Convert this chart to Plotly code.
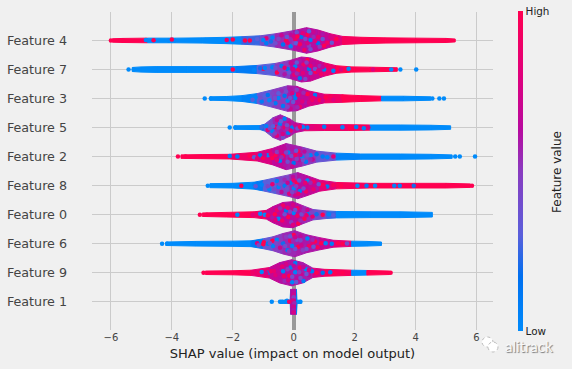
import plotly.graph_objects as go
from plotly.colors import sample_colorscale

FEATURES = ["Feature 1", "Feature 9", "Feature 6", "Feature 0", "Feature 8",
            "Feature 2", "Feature 5", "Feature 3", "Feature 7", "Feature 4"]
XTICKS = [-6, -4, -2, 0, 2, 4, 6]
RED_BLUE = [[0, "#008bfb"], [0.17, "#0070f0"], [0.3, "#5a5fdb"], [0.5, "#8a3bc0"],
            [0.63, "#b80a9f"], [0.8, "#e0007c"], [1, "#ff0051"]]

# Outline of each swarm: stations along x, half height there, colour value between stations
F4_X = [-5.95, -5.6, -4.8, -3.9, -3.0, -2.2, -1.7, -1.1, -0.6, 0.0, 0.42, 0.8, 1.2, 1.6, 2.2, 3.0, 4.0, 5.0, 5.3]
F4_H = [0.06, 0.07, 0.08, 0.08, 0.09, 0.11, 0.13, 0.16, 0.23, 0.34, 0.44, 0.36, 0.23, 0.14, 0.11, 0.09, 0.08, 0.07, 0.05]
F4_V = [1, 1, 0, 0, 0, 0.02, 0.25, 0.4, 0.55, 0.62, 0.62, 0.68, 0.8, 0.95, 1, 1, 1, 1]
F7_X = [-5.3, -5.0, -4.5, -3.5, -2.5, -1.9, -1.2, -0.6, -0.1, 0.25, 0.55, 1.0, 1.4, 1.9, 2.5, 3.4]
F7_H = [0.07, 0.09, 0.10, 0.10, 0.10, 0.10, 0.14, 0.21, 0.32, 0.43, 0.40, 0.23, 0.13, 0.09, 0.08, 0.06]
F7_V = [0, 0, 0, 0, 0, 0.1, 0.3, 0.5, 0.62, 0.64, 0.7, 0.85, 1, 1, 1]
F3_X = [-2.75, -2.2, -1.7, -1.2, -0.7, -0.2, 0.1, 0.5, 1.0, 1.6, 2.2, 2.88, 3.6, 4.5]
F3_H = [0.06, 0.07, 0.10, 0.17, 0.30, 0.44, 0.42, 0.26, 0.15, 0.13, 0.10, 0.08, 0.08, 0.06]
F3_V = [0, 0, 0.05, 0.35, 0.5, 0.58, 0.66, 0.76, 0.9, 1, 1, 0, 0]
F5_X = [-1.95, -1.1, -0.95, -0.68, -0.44, -0.13, 0.05, 0.35, 1.0, 1.8, 2.5, 3.5, 4.5, 5.15]
F5_H = [0.06, 0.07, 0.12, 0.34, 0.44, 0.30, 0.17, 0.11, 0.10, 0.10, 0.09, 0.09, 0.08, 0.06]
F5_V = [0, 0.2, 0.4, 0.55, 0.58, 0.6, 0.65, 0.85, 0.9, 0.95, 0, 0, 0]
F2_X = [-3.7, -3.0, -2.1, -1.2, -0.7, -0.25, 0.3, 0.75, 1.4, 2.2, 3.5, 4.5, 5.2]
F2_H = [0.06, 0.07, 0.08, 0.15, 0.28, 0.45, 0.32, 0.19, 0.12, 0.09, 0.09, 0.08, 0.06]
F2_V = [1, 1, 0.9, 0.78, 0.66, 0.58, 0.5, 0.35, 0.05, 0, 0, 0]
F8_X = [-2.75, -2.0, -1.3, -1.0, -0.56, -0.13, 0.13, 0.42, 0.85, 1.4, 2.5, 4.0, 5.0, 5.8]
F8_H = [0.07, 0.08, 0.12, 0.18, 0.28, 0.38, 0.45, 0.35, 0.19, 0.11, 0.08, 0.08, 0.08, 0.06]
F8_V = [0, 0, 0.1, 0.3, 0.45, 0.55, 0.62, 0.68, 0.8, 0.95, 1, 1, 1]
F0_X = [-3.0, -2.2, -1.3, -0.9, -0.68, -0.36, -0.03, 0.3, 0.63, 1.08, 1.4, 2.5, 3.5, 4.55]
F0_H = [0.06, 0.08, 0.10, 0.15, 0.28, 0.42, 0.45, 0.31, 0.18, 0.13, 0.11, 0.10, 0.10, 0.08]
F0_V = [1, 1, 0.9, 0.72, 0.66, 0.64, 0.62, 0.55, 0.4, 0.25, 0, 0, 0]
F6_X = [-4.2, -3.2, -2.0, -1.4, -1.0, -0.68, -0.36, 0.03, 0.42, 0.85, 1.3, 1.9, 2.4, 2.88]
F6_H = [0.06, 0.08, 0.09, 0.10, 0.17, 0.24, 0.35, 0.45, 0.31, 0.21, 0.12, 0.09, 0.08, 0.06]
F6_V = [0, 0, 0, 0.1, 0.35, 0.5, 0.55, 0.58, 0.6, 0.68, 0.82, 0, 0]
F9_X = [-2.9, -2.0, -1.4, -0.8, -0.46, -0.07, 0.3, 0.63, 1.0, 1.9, 2.4, 3.15]
F9_H = [0.06, 0.07, 0.09, 0.18, 0.35, 0.45, 0.35, 0.16, 0.12, 0.09, 0.08, 0.06]
F9_V = [1, 1, 0.85, 0.68, 0.62, 0.6, 0.58, 0.78, 0.95, 0, 1]
F1_X = [-0.45, -0.12, -0.1, 0.09, 0.11, 0.25]
F1_H = [0.05, 0.06, 0.43, 0.43, 0.06, 0.05]
F1_V = [0, 0, 0.63, 0.1, 0]

# Individually visible dots: (shap value, offset within the row, feature value)
F4_DOTS = [(-6.0,0,1),(-5.6,0,1),(-4.85,0.02,0),(-4.6,0.01,1),(-4.1,0,0),(-4.0,0.03,1),(-2.9,0.02,0),(-2.2,0.02,0.9),(-2.0,0.03,1),(-1.44,0,1),(-1.6,0,1),
 (-1.2,0.05,0.3),(-0.9,-0.1,0.1),(-0.9,0.08,0.8),(-0.7,0.1,0.05),(-0.6,-0.1,0.4),(-0.4,0.18,0.7),(-0.35,-0.14,0.15),(-0.25,0,1),(-0.1,0.2,0.65),(-0.1,-0.2,0.05),
 (0.05,0.05,0.9),(0.1,0.28,0.4),(0.15,-0.24,0.7),(0.25,0.12,0.15),(0.25,-0.05,0.65),(0.35,-0.33,0.9),(0.35,0.36,0.6),(0.45,0.2,1),(0.5,-0.18,0.5),(0.55,0.02,0.1),
 (0.65,0.3,0.7),(0.7,-0.28,0.65),(0.8,0.12,0.85),(0.8,-0.1,0.15),(0.95,0.22,0.6),(1.0,-0.18,1),(1.1,0.04,0.65),(1.25,-0.08,0.35),(1.4,0.05,1),
 (-1.0,0.02,0.05),(-0.75,-0.04,0.2),(-0.5,0.05,0.45),(-0.2,-0.08,0.85),(-0.22,0.12,0.35),(0,0.14,0.75),(0,-0.1,0.5),(0.12,0.14,1),(0.08,-0.1,0.3),(0.2,-0.13,0.95),(0.38,0.05,0.45),(0.45,-0.1,0.75),(0.3,0.25,0.8),(0.5,0.32,0.3),(0.55,-0.3,0.4),(0.65,0.12,0.55),(0.7,-0.02,0.8),(0.85,-0.22,0.5),(0.95,0.05,0.35),(1.1,-0.08,0.9),(1.2,0.12,0.75)]
F7_DOTS = [(-5.42,0,0),(-5.25,0,0),(-2.0,0,1),(-1.0,0.03,1),(-1.7,0.02,0.1),(-1.3,-0.03,0.05),(-0.85,-0.06,0.3),(-0.7,0.08,0.05),(-0.55,-0.1,1),(-0.4,0.12,0.1),(-0.3,-0.16,0.6),
 (-0.2,0.02,0.15),(-0.1,0.22,0.7),(0.02,-0.18,0.85),(0.05,0.1,0.05),(0.15,-0.02,1),(0.2,0.3,0.6),(0.2,-0.3,0.15),(0.32,0.16,0.9),(0.4,-0.2,0.65),(0.45,0.34,1),
 (0.5,0.02,0.15),(0.6,-0.28,0.7),(0.65,0.2,0.65),(0.72,-0.08,1),(0.85,0.12,0.55),(0.9,-0.16,0.9),(1.0,0,0.1),(1.15,0.1,0.9),(1.3,-0.04,0.05),(1.55,0,0.8),(1.8,0.03,0),(2.0,0,1),
 (2.6,0,0.8),(3.2,0,0),(3.5,0,0),(4.02,0,0),
 (-1.1,0.04,0.2),(-0.95,0.05,0.05),(-0.6,0.06,0.4),(-0.45,-0.02,0.5),(-0.3,0.06,0.85),(-0.15,-0.1,0.35),(-0.02,0.02,0.75),(0.1,-0.14,0.55),(0.1,0.24,0.35),(0.25,0.06,0.65),(0.3,-0.12,0.8),(0.38,-0.33,0.45),(0.42,0.24,0.5),(0.55,0.12,0.85),(0.55,-0.12,0.35),(0.7,0.02,0.4),(0.8,-0.05,0.8),(0.95,0.08,0.65)]
F3_DOTS = [(-2.92,0,0),(-2.72,0,0),(-1.25,0.04,0.05),(-1.05,-0.1,0.1),(-0.95,0.1,0.3),(-0.8,-0.06,0.02),(-0.7,0.18,0.45),(-0.6,-0.16,0.1),(-0.5,0.02,0.05),(-0.4,0.26,0.55),
 (-0.35,-0.26,0.1),(-0.3,0.1,0.15),(-0.2,-0.08,0.05),(-0.1,0.32,0.6),(-0.1,-0.35,0.7),(0,0.15,0.1),(0.05,-0.15,0.65),(0.05,0.02,0.1),(0.18,0.26,0.65),(0.2,-0.28,0.9),
 (0.3,0.05,0.65),(0.38,-0.14,0.6),(0.45,0.16,1),(0.6,-0.05,0.9),(0.7,0.12,0.1),(0.85,-0.05,1),(1.05,0.04,1),(1.3,-0.04,0.8),(1.6,0.06,1),(4.55,0,0),(4.78,0,0),(4.93,0,0),
 (-1.35,-0.04,0.3),(-1.1,0.03,0.4),(-0.85,0.12,0.15),(-0.72,-0.18,0.35),(-0.62,0.02,0.4),(-0.5,0.18,0.3),(-0.45,-0.12,0.5),(-0.25,0.24,0.4),(-0.2,-0.28,0.45),(-0.12,0.02,0.4),(-0.05,0.18,0.75),(-0.02,-0.12,0.35),(0.1,0.3,0.5),(0.15,0.12,0.85),(0.12,-0.3,0.55),(0.28,-0.1,0.8),(0.32,0.2,0.55),(0.5,-0.14,0.75),(0.65,0.02,0.85),(0.95,-0.08,0.75),(1.2,0.08,0.95)]
F5_DOTS = [(-2.1,0,0),(-1.92,0,0),(-1.05,0.02,0.25),(-0.9,0.05,0.05),(-0.85,-0.08,0.8),(-0.75,0.16,0.45),(-0.7,-0.12,0.05),(-0.6,0.02,0.9),(-0.55,0.26,0.7),(-0.55,-0.28,0.8),
 (-0.45,0.12,0.08),(-0.42,-0.12,0.6),(-0.35,-0.34,0.4),(-0.3,0.3,0.08),(-0.3,0,0.85),(-0.18,-0.18,0.1),(-0.15,0.16,0.7),(-0.05,0,0.1),(0.05,0.07,0.7),(0.3,0.02,0.05),(0.45,0,0.1),
 (0.8,0,0.85),(1.0,0.03,0.1),(1.25,0,0.9),(1.6,0.01,0.05),(1.85,0,1),(2.05,0.02,0.1),(2.3,-0.02,0.05),(2.45,0,0.8),
 (-0.78,-0.02,0.4),(-0.68,0.05,0.3),(-0.62,-0.2,0.5),(-0.5,0.0,0.45),(-0.48,0.33,0.6),(-0.42,0.22,0.3),(-0.36,-0.22,0.75),(-0.22,0.08,0.4),(-0.22,-0.06,0.55),(-0.1,-0.1,0.85),(0.12,-0.03,0.4),(0.2,0.03,0.9),(0.6,0.01,0.8)]
F2_DOTS = [(-3.8,0,1),(-3.55,0,1),(-2.1,0.02,0.1),(-1.85,0,0.1),(-1.45,0.03,1),(-1.3,-0.02,0.3),(-1.1,0.05,0.15),(-1.0,-0.04,1),(-0.85,0.05,0.05),(-0.7,-0.05,1),(-0.6,0.05,1),
 (-0.55,0.16,0.5),(-0.45,-0.14,0.1),(-0.35,0.03,1),(-0.3,0.28,0.65),(-0.28,-0.3,0.6),(-0.18,0.14,0.05),(-0.12,-0.08,0.7),(-0.05,0.28,0.6),(0,-0.22,0.15),(0.05,0.05,0.9),
 (0.15,0.18,1),(0.18,-0.12,0.65),(0.28,-0.02,0.05),(0.35,0.18,0.65),(0.4,-0.18,0.1),(0.55,0.05,0.05),(0.62,-0.1,0.7),(0.75,0.08,0.15),(0.95,0,0.1),(1.1,-0.02,0.05),(1.3,0,0.8),(5.3,0,0),(5.45,0,0),(5.95,0,0),
 (-1.2,-0.06,0.85),(-0.95,0.06,0.7),(-0.75,0.08,0.85),(-0.55,-0.12,0.85),(-0.42,0.18,0.75),(-0.4,-0.02,0.55),(-0.25,0.14,0.45),(-0.2,-0.18,0.4),(-0.08,0.02,0.4),(-0.05,-0.34,0.7),(0.08,0.2,0.35),(0.1,-0.08,0.5),(0.22,0.06,0.7),(0.3,-0.12,0.4),(0.45,0.04,0.4),(0.55,-0.1,0.55)]
F8_DOTS = [(-2.82,0,0),(-1.72,0,1),(-1.3,0.05,0.05),(-1.1,-0.08,0.1),(-0.95,0.1,0.3),(-0.8,-0.12,0.05),(-0.7,0.05,0.85),(-0.55,0.16,0.1),(-0.5,-0.05,0.05),(-0.4,-0.22,0.65),(-0.3,0.2,0.55),(-0.3,0,0.1),
 (-0.15,-0.28,0.8),(-0.1,0.1,0.1),(-0.02,0.3,0.65),(0,-0.1,0.05),(0.05,-0.34,0.7),(0.1,0.1,1),(0.2,-0.18,0.1),(0.25,0.28,0.6),(0.3,0,0.65),(0.4,-0.2,0.9),(0.45,0.18,0.05),(0.55,-0.04,0.7),
 (0.65,0.14,0.9),(0.75,-0.1,0.6),(0.95,0.02,1),(1.1,-0.03,0.1),(1.3,0.02,0.95),(1.55,0,1),(2.09,0,0),(2.39,0,0.1),(2.67,0,0),(3.3,0,0.05),(3.48,0,0.05),(3.94,0,0.2),(5.85,0,1),
 (-1.25,-0.02,0.35),(-1.05,0.03,0.05),(-0.85,-0.02,0.45),(-0.65,-0.12,0.4),(-0.45,0.05,0.4),(-0.2,0.1,0.7),(-0.22,-0.1,0.4),(-0.05,-0.22,0.45),(0,0.18,0.9),(0.08,-0.02,0.5),(0.18,0.18,0.35),(0.15,-0.28,0.85),(0.32,-0.1,0.4),(0.38,0.1,0.85),(0.55,0.1,0.55),(0.65,-0.12,0.85),(0.82,0.05,0.35),(1.0,-0.06,0.85)]
F0_DOTS = [(-3.08,0,1),(-2.85,0,1),(-1.85,0,0),(-1.35,0,0.8),(-1.1,0.03,0),(-0.95,0,0),(-0.8,0.08,0.7),(-0.7,-0.1,0.6),(-0.55,0.16,0.85),(-0.5,-0.14,0.05),(-0.42,0.02,0.65),(-0.35,0.32,0.9),
 (-0.3,-0.28,0.7),(-0.25,0.14,0.15),(-0.18,-0.08,1),(-0.08,0.28,0.65),(-0.08,-0.26,0.5),(0,0.06,0.05),(0.06,-0.14,0.65),(0.12,0.22,0.9),(0.15,-0.3,1),(0.25,0.02,0.4),(0.32,0.14,0.55),
 (0.35,-0.14,1),(0.5,0.05,0.1),(0.62,-0.06,0.85),(0.75,0.02,0.2),(0.95,0,1),(1.15,0.02,0.05),(1.3,-0.02,0.3),
 (-0.85,-0.02,0.95),(-0.62,0.02,1),(-0.6,-0.18,0.8),(-0.45,0.22,0.55),(-0.38,-0.2,0.9),(-0.3,0.02,0.4),(-0.2,0.24,0.85),(-0.12,0.1,0.5),(-0.02,-0.35,0.8),(-0.02,0.34,0.75),(0.05,0.16,0.4),(0.12,-0.04,0.9),(0.22,-0.2,0.55),(0.42,-0.02,0.85),(0.45,0.16,0.7),(0.58,0.08,0.45)]
F6_DOTS = [(-4.32,0,0),(-4.15,0,0),(-1.2,0.02,0.8),(-1.0,-0.02,1),(-0.98,0.05,1),(-0.85,0,0.1),(-0.7,0.1,1),(-0.68,-0.08,0.05),(-0.55,0.14,0.05),(-0.45,-0.14,0.7),(-0.35,0.02,0.2),(-0.25,0.24,0.5),
 (-0.2,-0.22,0.1),(-0.12,0.1,0.9),(-0.05,-0.08,0.05),(0,0.3,1),(0.02,-0.32,0.55),(0.1,0.14,0.4),(0.15,-0.1,1),(0.22,0.26,0.65),(0.3,-0.22,0.5),(0.32,0.05,0.6),(0.45,0.18,0.05),(0.5,-0.08,0.9),
 (0.7,0.08,1),(0.78,-0.12,0.95),(0.9,0.02,1),(1.05,0.02,0.05),(1.25,0,0.1),(1.45,0.02,1),(1.6,0,1),(1.75,0.01,0.4),
 (-1.15,-0.05,0.4),(-0.78,0.02,0.4),(-0.58,0.02,0.45),(-0.42,0.14,0.5),(-0.28,-0.08,0.4),(-0.15,-0.26,0.5),(-0.12,0.26,0.35),(-0.02,0.1,0.55),(0.05,-0.18,0.4),(0.05,0.22,0.7),(0.22,0.12,0.45),(0.25,-0.05,0.7),(0.42,-0.18,0.4),(0.62,0.02,0.85),(0.65,-0.1,0.35),(0.62,0.14,0.55)]
F9_DOTS = [(-2.96,0,1),(-1.35,0,0.9),(-1.15,0,0.9),(-1.05,0.03,0),(-0.85,0,0.1),(-0.75,0.05,0.9),(-0.6,-0.08,0.8),(-0.5,0.2,0.7),(-0.45,-0.14,0.65),(-0.35,0.05,0.05),(-0.3,-0.28,0.55),(-0.25,0.3,0.75),
 (-0.15,-0.1,1),(-0.1,0.18,0.1),(-0.05,-0.33,0.05),(0.05,0.34,0.1),(0.05,0.02,0.05),(0.12,-0.2,0.65),(0.2,0.18,0.9),(0.25,-0.05,0.7),(0.32,-0.28,0.1),(0.4,0.12,0.05),(0.5,-0.08,0.65),(0.6,0.05,0.1),
 (0.75,0,1),(0.95,0,0.15),(1.2,0.02,0.1),(1.35,-0.02,1),(1.6,0,1),(2.05,0,0),(3.18,0,1),
 (-0.9,-0.02,0.75),(-0.65,0.06,0.85),(-0.48,-0.02,0.7),(-0.38,0.22,0.85),(-0.32,-0.12,0.9),(-0.2,0.12,0.5),(-0.18,-0.25,0.75),(-0.05,-0.14,0.4),(0,0.24,0.65),(0.08,-0.32,0.35),(0.18,0.02,0.5),(0.22,-0.18,0.4),(0.32,0.2,0.65),(0.42,-0.04,0.35),(0.5,0.1,0.75)]
F1_DOTS = [(-0.72,0,0),(-0.45,0,0),(-0.38,0,0),(-0.28,0,0),(-0.22,0.04,0),(-0.15,0,0.9),(0,0.35,0.63),(0,0.26,0.7),(0,0.16,0.5),(-0.02,0.05,0.75),(0.02,-0.05,0.55),(0,-0.16,0.7),(0,-0.28,0.6),(0,-0.36,0.75),(0.22,0,0)]

OUTLINES = [(F1_X, F1_H, F1_V), (F9_X, F9_H, F9_V), (F6_X, F6_H, F6_V), (F0_X, F0_H, F0_V), (F8_X, F8_H, F8_V),
            (F2_X, F2_H, F2_V), (F5_X, F5_H, F5_V), (F3_X, F3_H, F3_V), (F7_X, F7_H, F7_V), (F4_X, F4_H, F4_V)]
DOTS = [F1_DOTS, F9_DOTS, F6_DOTS, F0_DOTS, F8_DOTS, F2_DOTS, F5_DOTS, F3_DOTS, F7_DOTS, F4_DOTS]

fig = go.Figure()
for row, (xs, hs, vs) in enumerate(OUTLINES):
    for i, v in enumerate(vs):
        color = sample_colorscale(RED_BLUE, [v])[0]
        fig.add_trace(go.Scatter(
            x=[xs[i], xs[i + 1], xs[i + 1], xs[i], xs[i]],
            y=[row + hs[i], row + hs[i + 1], row - hs[i + 1], row - hs[i], row + hs[i]],
            mode="lines", fill="toself", fillcolor=color,
            line=dict(color=color, width=1), hoverinfo="skip", showlegend=False))
    dots = DOTS[row]
    fig.add_trace(go.Scatter(
        x=[d[0] for d in dots], y=[row + d[1] for d in dots], mode="markers",
        marker=dict(size=4.5, color=[d[2] for d in dots], coloraxis="coloraxis", line=dict(width=0)),
        hoverinfo="skip", showlegend=False))

FONT = "DejaVu Sans"
fig.update_layout(
    width=572, height=369, autosize=False,
    margin=dict(l=92, r=79, t=12, b=39, autoexpand=False),
    paper_bgcolor="#f0f0f0", plot_bgcolor="#f0f0f0",
    font=dict(family=FONT, color="#444444", size=10),
    xaxis=dict(range=[-6.62, 6.54], tickvals=XTICKS, showgrid=True, gridcolor="#cbcbcb", gridwidth=1, automargin=False,
               zeroline=True, zerolinecolor="#999999", zerolinewidth=3.5, showline=False, ticks="",
               tickfont=dict(size=10, color="#444444"),
               title=dict(text="SHAP value (impact on model output)", standoff=6,
                          font=dict(size=13, color="#222222"))),
    yaxis=dict(range=[-0.97, 9.98], tickvals=list(range(len(FEATURES))), ticktext=FEATURES, automargin=False,
               showgrid=True, gridcolor="#cbcbcb", gridwidth=1, zeroline=False, showline=False, ticks="",
               ticklabelstandoff=24, tickfont=dict(size=12.7, color="#444444")),
    coloraxis=dict(
        cmin=0, cmax=1, colorscale=RED_BLUE,
        colorbar=dict(thickness=5, thicknessmode="pixels", len=320, lenmode="pixels", x=1.0635, xanchor="left",
                      y=0.5, yanchor="middle", ypad=0, xpad=0, outlinewidth=0, ticks="",
                      tickvals=[0, 1], ticktext=["Low", "High"], tickfont=dict(size=10.4, color="#222222"))),
    annotations=[dict(text="alitrack", xref="paper", yref="paper", x=(529 - 92) / 401, y=-(345.5 - 330) / 318,
                      showarrow=False, xanchor="center", yanchor="middle",
                      font=dict(family="Lato", size=15, color="#f8f8f8", shadow="1px 1px 1px #777777")),
                 dict(text="Feature value", xref="paper", yref="paper", x=(557 - 92) / 401, y=(330 - 172) / 318,
                      showarrow=False, textangle=-90, xanchor="center", yanchor="middle",
                      font=dict(size=12, color="#222222"))],
    shapes=[dict(type="circle", xref="paper", yref="paper", x0=(482 - 92) / 401, x1=(493 - 92) / 401,
                 y0=-(347 - 330) / 318, y1=-(337 - 330) / 318, fillcolor="#ffffff",
                 line=dict(color="#bbbbbb", width=1, dash="dot"), layer="above"),
            dict(type="circle", xref="paper", yref="paper", x0=(488 - 92) / 401, x1=(498 - 92) / 401,
                 y0=-(352 - 330) / 318, y1=-(342 - 330) / 318, fillcolor="#ffffff",
                 line=dict(color="#bbbbbb", width=1, dash="dot"), layer="above")],
)
fig.write_html("out.html", config={"displayModeBar": False}, post_script="document.body.style.margin='0';")
